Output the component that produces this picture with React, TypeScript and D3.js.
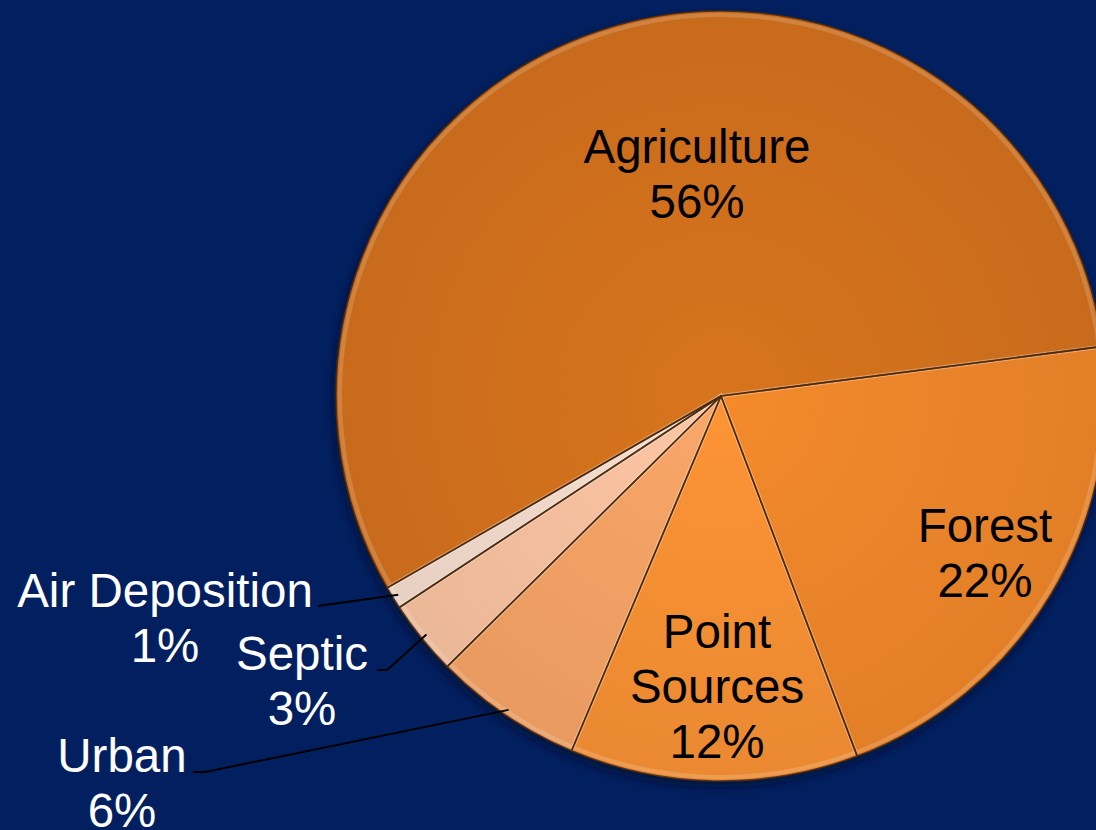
import * as d3 from "d3";
import { useEffect, useRef } from "react";

const categories = ["Forest", "Point Sources", "Urban", "Septic", "Air Deposition", "Agriculture"];
const shares = [21.3, 12.1, 6.25, 3.15, 0.95, 56.25];
const shareLabels = ["22%", "12%", "6%", "3%", "1%", "56%"];
const sliceColors = ["#EA8429", "#F28E33", "#F0A064", "#F3BE9D", "#EFD7C8", "#CF6F1E"];

const W = 1096;
const H = 830;

// label layout (offsets from pie centre), kept apart from the data
const inside: Record<string, { dx: number; dy: number; lines: string[] }> = {
  Agriculture: { dx: -24, dy: -233, lines: ["Agriculture"] },
  Forest: { dx: 264, dy: 146, lines: ["Forest"] },
  "Point Sources": { dx: -4, dy: 252, lines: ["Point", "Sources"] },
};
const outside: Record<string, { tx: number; ty: number; lx: number; ly: number; kink: number }> = {
  "Air Deposition": { tx: -556, ty: 211, lx: -403, ly: 210, kink: 0 },
  Septic: { tx: -419, ty: 274, lx: -344, ly: 274, kink: 10 },
  Urban: { tx: -599, ty: 376, lx: -528, ly: 376, kink: 12 },
};

const App = () => {
  const ref = useRef<SVGSVGElement>(null);

  useEffect(() => {
    const svg = d3.select(ref.current);
    svg.selectAll("*").remove();

    const cx = 721;
    const cy = 396;
    const r = 385;
    const font = "'Liberation Sans', Arial, sans-serif";

    svg.append("rect").attr("width", W).attr("height", H).attr("fill", "#02205F");

    const defs = svg.append("defs");
    const shadow = defs.append("filter").attr("id", "sh").attr("x", "-20%").attr("y", "-20%").attr("width", "140%").attr("height", "140%");
    shadow.append("feGaussianBlur").attr("in", "SourceAlpha").attr("stdDeviation", 5);
    shadow.append("feOffset").attr("dx", -2).attr("dy", 5).attr("result", "b");
    shadow.append("feFlood").attr("flood-color", "#001030").attr("flood-opacity", 0.8);
    shadow.append("feComposite").attr("in2", "b").attr("operator", "in");
    const m = shadow.append("feMerge");
    m.append("feMergeNode");
    m.append("feMergeNode").attr("in", "SourceGraphic");

    sliceColors.forEach((c, i) => {
      const g = defs.append("radialGradient").attr("id", `g${i}`)
        .attr("gradientUnits", "userSpaceOnUse").attr("cx", 0).attr("cy", 0).attr("r", r);
      g.append("stop").attr("offset", "0%").attr("stop-color", d3.color(c)!.brighter(0.12).formatHex());
      g.append("stop").attr("offset", "100%").attr("stop-color", d3.color(c)!.darker(0.1).formatHex());
    });

    const startDeg = 82.6;
    const pie = d3.pie<number>().sort(null).value((d) => d)
      .startAngle((startDeg * Math.PI) / 180)
      .endAngle(((startDeg + 360) * Math.PI) / 180);
    const arcs = pie(shares);
    const arc = d3.arc<d3.PieArcDatum<number>>().innerRadius(0).outerRadius(r);

    const g = svg.append("g").attr("transform", `translate(${cx},${cy})`);
    const slices = g.append("g").attr("filter", "url(#sh)");
    slices.selectAll("path.s")
      .data(arcs)
      .join("path")
      .attr("class", "s")
      .attr("d", arc)
      .attr("fill", (_, i) => `url(#g${i})`);

    // soft bevel highlight just inside each slice edge
    const inner = d3.arc<d3.PieArcDatum<number>>().innerRadius(0).outerRadius(r - 4);
    slices.selectAll("path.h")
      .data(arcs)
      .join("path")
      .attr("class", "h")
      .attr("d", inner)
      .attr("fill", "none")
      .attr("stroke", "#ffffff")
      .attr("stroke-opacity", 0.16)
      .attr("stroke-width", 4);

    // dark slice outlines on top
    slices.selectAll("path.o")
      .data(arcs)
      .join("path")
      .attr("class", "o")
      .attr("d", arc)
      .attr("fill", "none")
      .attr("stroke", "#4a2a0e")
      .attr("stroke-opacity", 0.85)
      .attr("stroke-width", 1.6)
      .attr("stroke-linejoin", "round");

    const lh = 55;
    const fs = 47.5;
    arcs.forEach((a, i) => {
      const name = categories[i];
      const pct = shareLabels[i];
      if (inside[name]) {
        const L = inside[name];
        [...L.lines, pct].forEach((t, k) => {
          g.append("text")
            .attr("x", L.dx)
            .attr("y", L.dy + k * lh)
            .attr("text-anchor", "middle")
            .attr("font-family", font)
            .attr("font-size", fs)
            .attr("fill", "#000")
            .text(t);
        });
      } else if (outside[name]) {
        const O = outside[name];
        const [ex, ey] = d3.arc<d3.PieArcDatum<number>>().innerRadius(r - 6).outerRadius(r - 6).centroid(a);
        g.append("path")
          .attr("d", `M${O.lx},${O.ly}L${O.lx + O.kink},${O.ly}L${ex},${ey}`)
          .attr("fill", "none")
          .attr("stroke", "#000")
          .attr("stroke-width", 2);
        [name, pct].forEach((t, k) => {
          g.append("text")
            .attr("x", O.tx)
            .attr("y", O.ty + k * lh)
            .attr("text-anchor", "middle")
            .attr("font-family", font)
            .attr("font-size", fs)
            .attr("fill", "#fff")
            .text(t);
        });
      }
    });
  }, []);

  return (
    <svg
      ref={ref}
      width={W}
      height={H}
      style={{ position: "absolute", left: 0, top: 0, display: "block" }}
    />
  );
};

export default App;
